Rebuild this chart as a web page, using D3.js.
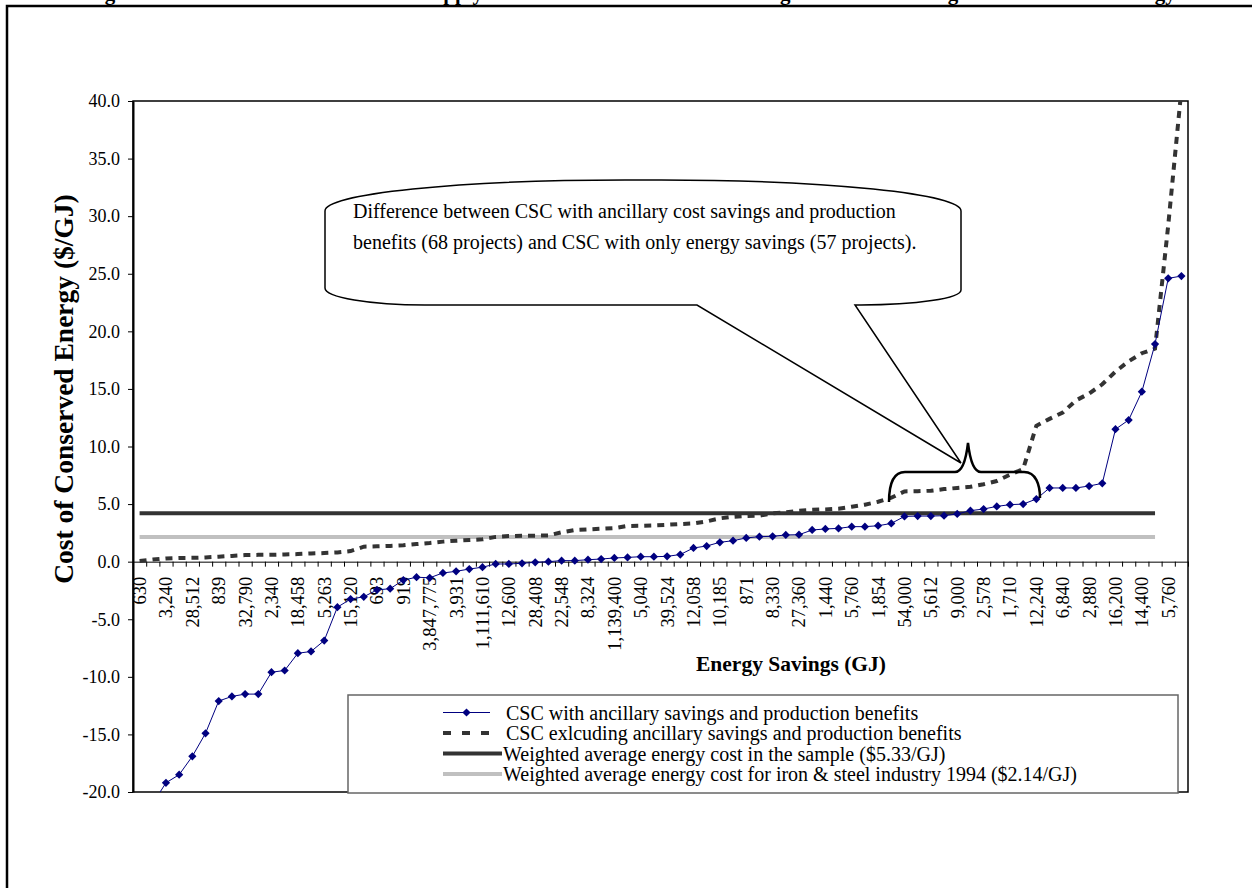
<!DOCTYPE html>
<html>
<head>
<meta charset="utf-8">
<script src="https://cdn.jsdelivr.net/npm/d3@7"></script>
<style>
  body { margin: 0; background: #fff; }
  #chart svg { display: block; font-family: 'Liberation Serif', 'Times New Roman', serif; }
</style>
</head>
<body>
<div id="chart"></div>
<script>
// ---- data ----
// energy savings (GJ) shown under every other category
const tickLabels = [
  '630', '3,240', '28,512', '839', '32,790', '2,340', '18,458', '5,263', '15,120', '693',
  '919', '3,847,775', '3,931', '1,111,610', '12,600', '28,408', '22,548', '8,324', '1,139,400', '5,040',
  '39,524', '12,058', '10,185', '871', '8,330', '27,360', '1,440', '5,760', '1,854', '54,000',
  '5,612', '9,000', '2,578', '1,710', '12,240', '6,840', '2,880', '16,200', '14,400', '5,760'
];
const categoryCount = 80;

// CSC with ancillary savings and production benefits ($/GJ)
const cscWithAncillary = [
  -25, -21, -19.2, -18.5, -16.9, -14.9, -12.1, -11.7, -11.5, -11.5,
  -9.6, -9.45, -7.95, -7.8, -6.85, -3.95, -3.25, -3.05, -2.45, -2.35,
  -1.6, -1.35, -1.4, -0.98, -0.84, -0.64, -0.48, -0.2, -0.2, -0.14,
  -0.06, 0.0, 0.09, 0.09, 0.17, 0.23, 0.32, 0.37, 0.43, 0.43,
  0.46, 0.62, 1.19, 1.36, 1.68, 1.82, 2.06, 2.17, 2.2, 2.32,
  2.34, 2.75, 2.84, 2.89, 3.04, 3.04, 3.12, 3.32, 3.93, 3.96,
  3.96, 3.99, 4.14, 4.43, 4.57, 4.8, 4.95, 5.0, 5.44, 6.4,
  6.4, 6.4, 6.57, 6.8, 11.5, 12.3, 14.76, 18.9, 24.6, 24.8
];

// CSC excluding ancillary savings and production benefits ($/GJ)
const cscExcludingAncillary = [
  0.05, 0.18, 0.28, 0.32, 0.33, 0.37, 0.43, 0.5, 0.57, 0.59,
  0.6, 0.63, 0.66, 0.71, 0.75, 0.8, 0.92, 1.3, 1.33, 1.37,
  1.42, 1.53, 1.62, 1.74, 1.82, 1.88, 1.94, 2.15, 2.22, 2.26,
  2.26, 2.28, 2.55, 2.75, 2.8, 2.86, 2.92, 3.1, 3.12, 3.15,
  3.2, 3.27, 3.32, 3.5, 3.76, 3.9, 3.97, 4.0, 4.19, 4.28,
  4.43, 4.5, 4.54, 4.6, 4.77, 4.95, 5.2, 5.55, 6.1, 6.12,
  6.16, 6.3, 6.4, 6.5, 6.72, 7.0, 7.55, 8.05, 11.8, 12.4,
  12.95, 14.0, 14.6, 15.4, 16.5, 17.4, 18.1, 18.5, 29.2, 41
];

// reference lines: value and first / last category they run across
const sampleAvgCost = 4.2;
const ironSteelAvgCost = 2.14;
const refLineSpan = [0, 77];

const yTicks = [-20, -15, -10, -5, 0, 5, 10, 15, 20, 25, 30, 35, 40];

const legendLabels = [
  'CSC with ancillary savings and production benefits',
  'CSC exlcuding ancillary savings and production benefits',
  'Weighted average energy cost in the sample ($5.33/GJ)',
  'Weighted average energy cost for iron & steel industry 1994 ($2.14/GJ)'
];

const calloutLines = [
  'Difference between CSC with ancillary cost savings and production',
  'benefits (68 projects) and CSC with only energy savings (57 projects).'
];

// the page title is cut off by the top edge; only its descenders show
const titleParts = [
  {x: 86, text: 'Figure 4. Cost of Conservation'},
  {x: 420, text: 'Supply Curve for Iron and Steel'},
  {x: 704, text: 'Including'},
  {x: 828, text: 'and Excluding Other'},
  {x: 1066, text: 'Non-Energy'}
];

// ---- painter ----
const CscPainter = {};

CscPainter.option = {
  width: 1252,
  height: 888,
  plot: {left: 133, right: 1188, top: 101, bottom: 792},
  navy: '#000080',
  dark: '#333333',
  light: '#c0c0c0'
};

CscPainter.painting = (container) => {
  const option = CscPainter.option;
  const plot = option.plot;
  const svg = d3.select(container).append('svg')
      .attr('width', option.width)
      .attr('height', option.height);

  const x = d3.scaleBand().domain(d3.range(categoryCount)).range([plot.left, plot.right]);
  const cx = (i) => x(i) + x.bandwidth() / 2;
  const xEdges = d3.scaleLinear().domain([0, categoryCount]).range([plot.left, plot.right]);
  const y = d3.scaleLinear().domain([-20, 40]).range([plot.bottom, plot.top]);

  // page frame + clipped title
  svg.append('rect')
      .attr('x', 7).attr('y', 6).attr('width', 1400).attr('height', 1000)
      .attr('fill', 'none').attr('stroke', '#000').attr('stroke-width', 2.5);
  svg.append('text')
      .attr('y', 0)
      .attr('font-size', 21).attr('font-weight', 'bold')
      .selectAll('tspan')
      .data(titleParts)
      .enter()
      .append('tspan')
      .attr('x', (d) => d.x)
      .text((d) => d.text);

  // plot area border
  svg.append('rect')
      .attr('x', plot.left).attr('y', plot.top)
      .attr('width', plot.right - plot.left).attr('height', plot.bottom - plot.top)
      .attr('fill', '#fff').attr('stroke', '#000').attr('stroke-width', 1.5);

  // y axis
  const gy = svg.append('g')
      .attr('transform', 'translate(' + plot.left + ',0)')
      .call(d3.axisLeft(y).tickValues(yTicks).tickSize(5).tickSizeOuter(0)
          .tickPadding(8).tickFormat((d) => d.toFixed(1)));
  gy.attr('font-family', null).attr('font-size', 18);
  gy.select('.domain').attr('stroke-width', 2);

  // x axis: tick marks between categories, labels under every other one
  svg.append('g')
      .attr('transform', 'translate(0,' + y(0) + ')')
      .call(d3.axisBottom(xEdges).tickValues(d3.range(categoryCount + 1))
          .tickSize(5).tickSizeOuter(0).tickFormat(''));
  const gx = svg.append('g')
      .attr('transform', 'translate(0,' + y(0) + ')')
      .call(d3.axisBottom(x).tickSize(0)
          .tickFormat((i) => i % 2 === 0 ? tickLabels[i / 2] : ''));
  gx.attr('font-family', null).attr('font-size', 18.5);
  gx.select('.domain').remove();
  gx.selectAll('text')
      .attr('transform', 'rotate(-90)')
      .attr('text-anchor', 'end')
      .attr('x', -15).attr('y', 0).attr('dy', '0.35em');

  // axis titles
  svg.append('text')
      .attr('transform', 'translate(63,389) rotate(-90)')
      .attr('text-anchor', 'middle').attr('dy', '0.35em')
      .attr('font-size', 27.5).attr('font-weight', 'bold')
      .text('Cost of Conserved Energy ($/GJ)');
  svg.append('text')
      .attr('x', 791).attr('y', 671)
      .attr('text-anchor', 'middle')
      .attr('font-size', 21.5).attr('font-weight', 'bold')
      .text('Energy Savings (GJ)');

  // series
  svg.append('clipPath').attr('id', 'plot-clip')
      .append('rect')
      .attr('x', plot.left).attr('y', plot.top)
      .attr('width', plot.right - plot.left).attr('height', plot.bottom - plot.top);
  const series = svg.append('g').attr('clip-path', 'url(#plot-clip)');

  const refLine = (value, color) => {
    series.append('line')
        .attr('x1', cx(refLineSpan[0])).attr('x2', cx(refLineSpan[1]))
        .attr('y1', y(value)).attr('y2', y(value))
        .attr('stroke', color).attr('stroke-width', 4);
  };
  refLine(ironSteelAvgCost, option.light);
  refLine(sampleAvgCost, option.dark);

  const line = d3.line().x((d, i) => cx(i)).y((d) => y(d));
  series.append('path')
      .datum(cscExcludingAncillary)
      .attr('d', line)
      .attr('fill', 'none').attr('stroke', option.dark)
      .attr('stroke-width', 4).attr('stroke-dasharray', '7,6');
  series.append('path')
      .datum(cscWithAncillary)
      .attr('d', line)
      .attr('fill', 'none').attr('stroke', option.navy).attr('stroke-width', 1);
  const diamond = d3.symbol().type(d3.symbolSquare).size(34);
  series.selectAll('.marker')
      .data(cscWithAncillary)
      .enter()
      .append('path')
      .attr('class', 'marker')
      .attr('d', diamond)
      .attr('transform', (d, i) => 'translate(' + cx(i) + ',' + y(d) + ') rotate(45)')
      .attr('fill', option.navy);

  // callout and brace
  const callout = svg.append('g');
  callout.append('path')
      .attr('d', 'M325,211 A300,31 0 0 1 625,180 L661,180 A300,31 0 0 1 961,211 ' +
          'L961,290 A100,15 0 0 1 861,305 L855,305 L961,463 L697,305 L425,305 ' +
          'A100,17 0 0 1 325,288 Z')
      .attr('fill', '#fff').attr('stroke', '#000').attr('stroke-width', 1.5);
  callout.selectAll('text')
      .data(calloutLines)
      .enter()
      .append('text')
      .attr('x', 353).attr('y', (d, i) => 218 + i * 31)
      .attr('font-size', 20)
      .text((d) => d);
  callout.append('path')
      .attr('d', 'M889,502 C889,485 893,472 905,472 L955,472 C962,472 966,460 968,443 ' +
          'C970,460 974,472 981,472 L1024,472 C1036,472 1040,485 1040,498')
      .attr('fill', 'none').attr('stroke', '#000').attr('stroke-width', 2.5);

  // legend
  const legend = svg.append('g');
  legend.append('rect')
      .attr('x', 348).attr('y', 695).attr('width', 830).attr('height', 98)
      .attr('fill', '#fff').attr('stroke', '#666').attr('stroke-width', 1.5);
  const rowY = (i) => 712.5 + i * 20.5;
  const samples = [
    {x2: 490, color: option.navy, width: 1, dash: null},
    {x2: 490, color: option.dark, width: 4, dash: '8,11'},
    {x2: 502, color: option.dark, width: 4, dash: null},
    {x2: 502, color: option.light, width: 4, dash: null}
  ];
  samples.forEach((s, i) => {
    legend.append('line')
        .attr('x1', 443).attr('x2', s.x2)
        .attr('y1', rowY(i)).attr('y2', rowY(i))
        .attr('stroke', s.color).attr('stroke-width', s.width)
        .attr('stroke-dasharray', s.dash);
    legend.append('text')
        .attr('x', i < 2 ? 506 : 503).attr('y', rowY(i)).attr('dy', '0.35em')
        .attr('font-size', 20)
        .text(legendLabels[i]);
  });
  legend.append('path')
      .attr('d', diamond)
      .attr('transform', 'translate(466.5,' + rowY(0) + ') rotate(45)')
      .attr('fill', option.navy);
};

CscPainter.painting(document.getElementById('chart'));
</script>
</body>
</html>
